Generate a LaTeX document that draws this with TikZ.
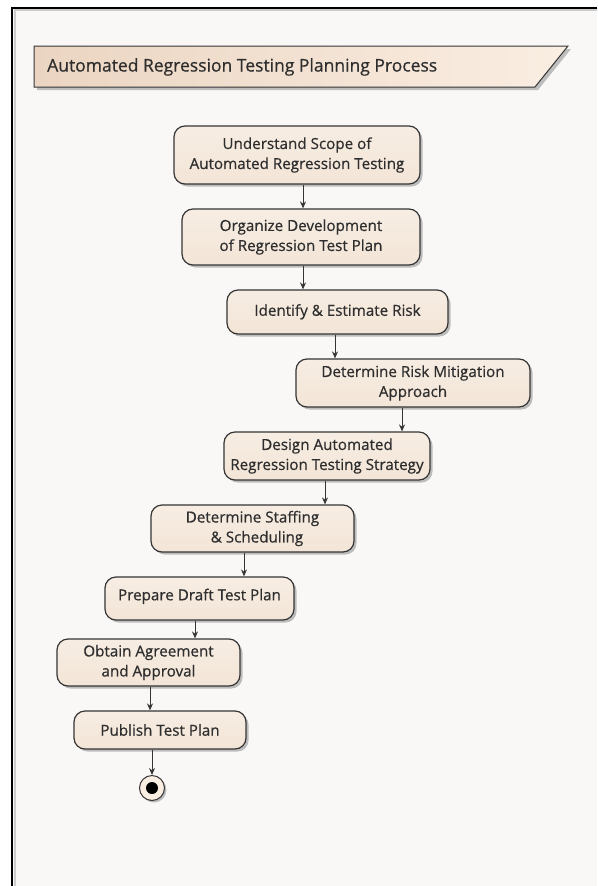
\documentclass[tikz,border=0pt]{standalone}
\usepackage{fontspec}
\setmainfont{Open Sans}
\newfontfamily\boxfont[FakeBold=0.6]{Open Sans}
\usetikzlibrary{shadows,arrows.meta,calc}
\definecolor{paper}{HTML}{FAF7F7}
\definecolor{boxfill}{HTML}{F3E5D7}
\definecolor{boxtop}{HTML}{F7EDE3}
\definecolor{edge}{HTML}{353535}
\definecolor{ink}{HTML}{2E2E2E}
\definecolor{bannerL}{HTML}{EBD5C2}
\definecolor{bannerR}{HTML}{FAEEE2}
\tikzset{
  stepbox/.style={draw=edge, line width=1.2pt, rounded corners=11pt,
    top color=boxtop, bottom color=boxfill, text=ink, align=center,
    font=\boxfont\fontsize{15.2}{20}\selectfont, inner sep=0pt,
    drop shadow={shadow xshift=2.5pt, shadow yshift=-2.5pt, fill=black!45, opacity=.55}},
  flow/.style={draw=edge, line width=1pt, -{Stealth[length=7pt,width=6pt]}},
}
\begin{document}
\begin{tikzpicture}[x=1pt,y=-1pt]
\useasboundingbox (0,0) rectangle (597,886);
% sheet
\fill[white] (0,0) rectangle (597,886);
\fill[paper] (12,8) rectangle (597,886);
\draw[black!20, line width=2pt] (14.5,886) -- (14.5,10) -- (597,10);
\draw[black, line width=1.6pt] (12,886) -- (12,8) -- (597,8);

% title banner
\fill[black!40, opacity=.6] (37,49) -- (571,49) -- (538,90) -- (37,90) -- cycle;
\path[left color=bannerL, right color=bannerR, draw=edge, line width=1pt]
  (34,46) -- (568,46) -- (535,87) -- (34,87) -- cycle;
\node[anchor=west, text=ink, inner sep=0pt, font=\boxfont\fontsize{17.5}{20}\selectfont] (title) at (47,67)
  {Automated Regression Testing Planning Process};

% activities
\node[stepbox, minimum width=246pt, minimum height=58pt] (n1) at (297,155)
  {Understand Scope of\\Automated Regression Testing};
\node[stepbox, minimum width=238pt, minimum height=56pt] (n2) at (301,237)
  {Organize Development\\of Regression Test Plan};
\node[stepbox, minimum width=221pt, minimum height=44pt] (n3) at (337.5,312)
  {\raisebox{4pt}{Identify \& Estimate Risk}};
\node[stepbox, minimum width=234pt, minimum height=48pt] (n4) at (413,383)
  {Determine Risk Mitigation\\Approach};
\node[stepbox, minimum width=206pt, minimum height=48pt] (n5) at (327,456)
  {Design Automated\\Regression Testing Strategy};
\node[stepbox, minimum width=203pt, minimum height=47pt] (n6) at (252.5,528.5)
  {Determine Staffing\\\hspace*{9pt}\& Scheduling};
\node[stepbox, minimum width=189pt, minimum height=43pt] (n7) at (199.5,598.5)
  {\raisebox{8pt}{Prepare Draft Test Plan}};
\node[stepbox, minimum width=183pt, minimum height=47pt] (n8) at (148.5,662.5)
  {Obtain Agreement\\and Approval};
\node[stepbox, minimum width=172pt, minimum height=38pt] (n9) at (160,730)
  {Publish Test Plan};

% final state
\node[circle, draw=edge, line width=1pt, fill=bannerR, minimum size=25pt, inner sep=0pt,
  drop shadow={shadow xshift=2pt, shadow yshift=-2pt, fill=black!45, opacity=.55}] (end) at (152,788) {};
\fill[black] (end.center) circle (6pt);

% connectors
\coordinate (a12) at (303,0);
\coordinate (a23) at (303,0);
\coordinate (a34) at (335,0);
\coordinate (a45) at (402,0);
\coordinate (a56) at (325,0);
\coordinate (a67) at (244,0);
\coordinate (a78) at (195,0);
\coordinate (a89) at (150,0);
\draw[flow] (n1.south -| a12) -- (n2.north -| a12);
\draw[flow] (n2.south -| a23) -- (n3.north -| a23);
\draw[flow] (n3.south -| a34) -- (n4.north -| a34);
\draw[flow] (n4.south -| a45) -- (n5.north -| a45);
\draw[flow] (n5.south -| a56) -- (n6.north -| a56);
\draw[flow] (n6.south -| a67) -- (n7.north -| a67);
\draw[flow] (n7.south -| a78) -- (n8.north -| a78);
\draw[flow] (n8.south -| a89) -- (n9.north -| a89);
\draw[flow] (n9.south -| end) -- (end.north);
\end{tikzpicture}
\end{document}
